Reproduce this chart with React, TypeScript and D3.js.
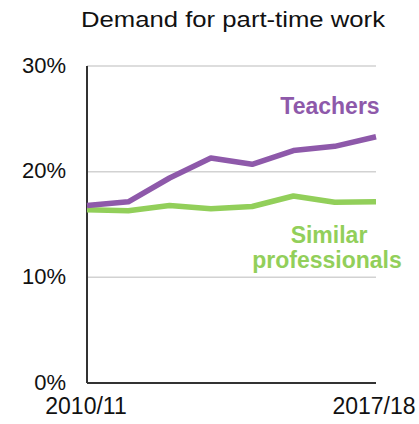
import React from "react";
import * as d3 from "d3";

const years = ["2010/11", "2011/12", "2012/13", "2013/14", "2014/15", "2015/16", "2016/17", "2017/18"];
const teachers = [16.8, 17.15, 19.4, 21.3, 20.7, 22.0, 22.4, 23.3];
const similar = [16.4, 16.3, 16.8, 16.5, 16.7, 17.7, 17.1, 17.15];
const yTicks = [0, 10, 20, 30];
const xLabels = ["2010/11", "2017/18"];

const W = 419;
const H = 424;
const left = 87;
const right = 376;
const top = 66;
const bottom = 383;
const purple = "#8e59aa";
const green = "#92cf5a";
const font = "'Liberation Sans', Arial, sans-serif";

export default function App() {
  const x = d3.scalePoint<string>().domain(years).range([left, right]);
  const y = d3.scaleLinear().domain([0, 30]).range([bottom, top]);
  const line = d3
    .line<number>()
    .x((_, i) => x(years[i]) as number)
    .y((d) => y(d));

  return (
    <svg
      width={W}
      height={H}
      style={{ position: "absolute", left: 0, top: 0, background: "#fff" }}
      fontFamily={font}
    >
      <text x={81} y={27} fontSize={22} fill="#111" textLength={304} lengthAdjust="spacingAndGlyphs">
        Demand for part-time work
      </text>
      {yTicks.map((t) => (
        <g key={t}>
          {t > 0 && (
            <line x1={left} x2={right} y1={y(t)} y2={y(t)} stroke="#d2d2d2" strokeWidth={1.5} />
          )}
          <text x={66} y={y(t) + 6.5} textAnchor="end" fontSize={22} fill="#111">
            {t}%
          </text>
        </g>
      ))}
      <line x1={left} x2={left} y1={top} y2={bottom} stroke="#333" strokeWidth={2} />
      <line x1={left} x2={right} y1={bottom} y2={bottom} stroke="#333" strokeWidth={2} />
      {xLabels.map((l, i) => (
        <text key={l} x={i === 0 ? 86 : 374} y={414} textAnchor="middle" fontSize={23} fill="#111">
          {l}
        </text>
      ))}
      <path d={line(similar) || ""} fill="none" stroke={green} strokeWidth={5.5} strokeLinejoin="round" />
      <path d={line(teachers) || ""} fill="none" stroke={purple} strokeWidth={5.5} strokeLinejoin="round" />
      <text x={330} y={114} textAnchor="middle" fontSize={23} fontWeight="bold" fill={purple}>
        Teachers
      </text>
      <text x={329} y={243} textAnchor="middle" fontSize={23} fontWeight="bold" fill={green}>
        Similar
      </text>
      <text x={327} y={268} textAnchor="middle" fontSize={23} fontWeight="bold" fill={green}>
        professionals
      </text>
    </svg>
  );
}
